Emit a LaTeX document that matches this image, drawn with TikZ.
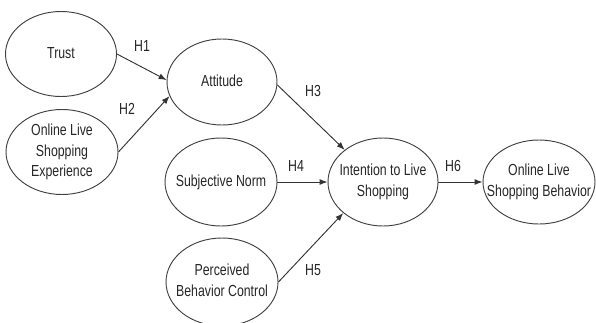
\documentclass[tikz,border=0pt]{standalone}
\usepackage{fontspec}
\setmainfont{Liberation Sans}
\usetikzlibrary{shapes.geometric,arrows.meta}
\newcommand{\nt}[1]{\scalebox{0.77}[1]{\begin{tabular}{@{}c@{}}#1\end{tabular}}}
\begin{document}
\begin{tikzpicture}[x=0.75pt,y=-0.75pt,
  ell/.style={draw=black!75, line width=0.7pt, ellipse, inner sep=0pt},
  txt/.style={inner sep=0pt, font=\fontsize{12}{15.4}\selectfont, text=black!85},
  arr/.style={draw=black!80, line width=0.7pt, -{Latex[length=6pt,width=4.5pt]}},
  lab/.style={inner sep=0pt, font=\fontsize{12}{14}\selectfont, text=black!85}]
\useasboundingbox (0,0) rectangle (596,322);
\node[ell, minimum width=83.25pt, minimum height=63.75pt] (trust) at (61,54) {};
\node[ell, minimum width=84pt, minimum height=63.75pt] (olse) at (62,152) {};
\node[ell, minimum width=82.5pt, minimum height=64.5pt] (att) at (222,82) {};
\node[ell, minimum width=84pt, minimum height=66pt] (sn) at (221,182) {};
\node[ell, minimum width=82.5pt, minimum height=66pt] (int) at (383,182) {};
\node[ell, minimum width=84pt, minimum height=63pt] (beh) at (539,182) {};
\node[ell, minimum width=84pt, minimum height=66pt] (pbc) at (222,282) {};
\node[txt] (trust-t) at (trust) {\nt{Trust}};
\node[txt] (olse-t) at (olse) {\nt{Online Live\\Shopping\\Experience}};
\node[txt] (att-t) at (att) {\nt{Attitude}};
\node[txt] (sn-t) at (sn) {\nt{Subjective Norm}};
\node[txt] (int-t) at (int) {\nt{Intention to Live\\Shopping}};
\node[txt] (beh-t) at (beh) {\nt{Online Live\\Shopping Behavior}};
\node[txt] (pbc-t) at (pbc) {\nt{Perceived\\Behavior Control}};
\draw[arr] (trust.east) -- (att.178);
\draw[arr] (olse.east) -- (att.195);
\draw[arr] (att.-3) -- (int.140);
\draw[arr] (sn.east) -- (int.west);
\draw[arr] (pbc.east) -- (int.218);
\draw[arr] (int.east) -- (beh.west);
\node[lab] (h1) at (142,48) {\nt{H1}};
\node[lab] (h2) at (127,111) {\nt{H2}};
\node[lab] (h3) at (313,93) {\nt{H3}};
\node[lab] (h4) at (296,168) {\nt{H4}};
\node[lab] (h5) at (313,272) {\nt{H5}};
\node[lab] (h6) at (453,168) {\nt{H6}};
\end{tikzpicture}
\end{document}
